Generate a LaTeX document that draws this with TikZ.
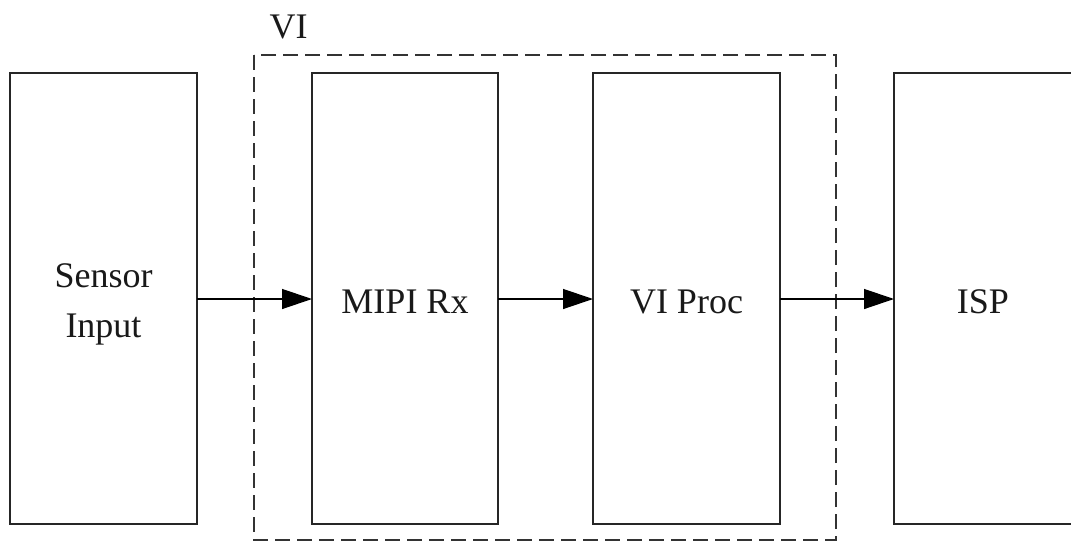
\documentclass[tikz,border=0pt]{standalone}
\usepackage{fontspec}
\setmainfont{Liberation Serif}
\usetikzlibrary{arrows.meta}
\begin{document}
\begin{tikzpicture}[x=1pt,y=-1pt,
  blockbox/.style={draw=black!85,line width=1.6pt,fill=none},
  lbl/.style={font=\fontsize{36}{50}\selectfont,align=center,text=black!90},
  flow/.style={line width=1.3pt,-{Triangle[length=30pt,width=20pt]}},
  groupbox/.style={draw=black!80,line width=1.8pt,dash pattern=on 15pt off 7pt}]
\useasboundingbox (0,0) rectangle (1071,544);
\begin{scope}
\clip (0,0) rectangle (1071,544);
% processing blocks
\draw[blockbox] (10,73) rectangle (197,524);
\draw[blockbox] (312,73) rectangle (498,524);
\draw[blockbox] (593,73) rectangle (780,524);
\draw[blockbox] (894,73) rectangle (1080,524);
\coordinate (sensorR) at (197,299);
\coordinate (mipiL) at (312,299);
\coordinate (mipiR) at (498,299);
\coordinate (procL) at (593,299);
\coordinate (procR) at (780,299);
\coordinate (ispL) at (894,299);
\node[lbl] (sensor) at (103.5,304) {Sensor\\Input};
\node[lbl] (mipi) at (405,302) {MIPI Rx};
\node[lbl] (proc) at (686.5,302) {VI Proc};
\node[lbl] (isp) at (983,302) {ISP};
% VI group outline
\draw[groupbox] (254,55) rectangle (836,540);
\node[lbl,anchor=west] (vi) at (266,27) {VI};
% data flow
\draw[flow] (sensorR) -- (mipiL);
\draw[flow] (mipiR) -- (procL);
\draw[flow] (procR) -- (ispL);
\end{scope}
\end{tikzpicture}
\end{document}
